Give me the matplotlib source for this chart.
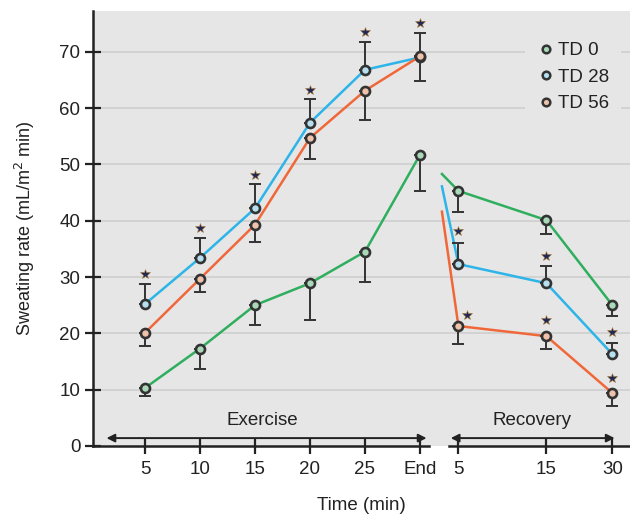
import matplotlib.pyplot as plt
from matplotlib.lines import Line2D

plt.rcParams['font.family'] = ['Liberation Sans Narrow', 'Liberation Sans', 'DejaVu Sans']

# x categories
ex_labels = ['5', '10', '15', '20', '25', 'End']
rec_labels = ['5', '15', '30']
ex_pos = [5, 10, 15, 20, 25, 30]
rec_pos = [33.5, 41.5, 47.5]
rec_start = 32.0  # start of recovery lines (no marker)

# TD 0 (error bars downward)
td0_ex = [10.3, 17.3, 25.0, 28.9, 34.5, 51.7]
td0_ex_err = [1.5, 3.6, 3.5, 6.5, 5.4, 6.5]
td0_rec = [45.3, 40.1, 25.0]
td0_rec_err = [3.7, 2.5, 2.0]
td0_start = 48.3

# TD 28 (error bars upward)
td28_ex = [25.2, 33.4, 42.2, 57.4, 66.8, 69.0]
td28_ex_err = [3.5, 3.5, 4.3, 4.3, 4.9, 4.4]
td28_rec = [32.3, 28.9, 16.3]
td28_rec_err = [3.7, 3.1, 2.0]
td28_start = 46.1

# TD 56 (error bars downward)
td56_ex = [20.1, 29.7, 39.3, 54.7, 63.1, 69.2]
td56_ex_err = [2.3, 2.3, 3.0, 3.8, 5.3, 4.4]
td56_rec = [21.3, 19.5, 9.4]
td56_rec_err = [3.2, 2.3, 2.3]
td56_start = 41.6

# significance stars
star_x = [5, 10, 15, 20, 25, 30, 33.5, 34.3, 41.5, 41.5, 47.5, 47.5]
star_y = [30.5, 38.7, 48.1, 63.3, 73.5, 75.2, 38.2, 23.3, 33.8, 22.4, 20.3, 12.1]

colors = {'TD 0': '#2fae5e', 'TD 28': '#2db4e8', 'TD 56': '#f0683a'}
faces = {'TD 0': '#a9d9b8', 'TD 28': '#b6dff0', 'TD 56': '#efc2ab'}
edge = '#333333'

fig = plt.figure(figsize=(6.3, 5.19), dpi=100)
ax = fig.add_axes([0.1476, 0.1407, 0.8524, 0.8387])
ax.set_facecolor('#e6e6e6')
ax.set_xlim(0.27, 49.1)
ax.set_ylim(0, 77.3)

for y in range(10, 80, 10):
    ax.axhline(y, color='#cfcfcf', lw=1.2, zorder=0)

series = [
    ('TD 0', td0_ex, td0_ex_err, td0_rec, td0_rec_err, td0_start, 'down'),
    ('TD 28', td28_ex, td28_ex_err, td28_rec, td28_rec_err, td28_start, 'up'),
    ('TD 56', td56_ex, td56_ex_err, td56_rec, td56_rec_err, td56_start, 'down'),
]

for name, ex, ex_err, rec, rec_err, start, side in series:
    c = colors[name]
    ax.plot(ex_pos, ex, color=c, lw=1.8, zorder=2)
    ax.plot([rec_start] + rec_pos, [start] + rec, color=c, lw=1.8, zorder=2)
    xs = ex_pos + rec_pos
    ys = ex + rec
    errs = ex_err + rec_err
    zeros = [0] * len(errs)
    yerr = [errs, zeros] if side == 'down' else [zeros, errs]
    ax.errorbar(xs, ys, yerr=yerr, fmt='none', ecolor=edge, elinewidth=1.4,
                capsize=4, capthick=1.4, zorder=3)
    ax.plot(xs, ys, 'o', ms=6.5, mfc=faces[name], mec=edge, mew=1.9,
            ls='none', zorder=4)

ax.plot(star_x, star_y, '*', ms=7.5, color='#1f2a5a', mec='#b07a30', mew=0.4,
        ls='none', zorder=5)

# legend
handles = [Line2D([], [], marker='o', ls='none', ms=5.5, mfc=faces[n], mec=edge,
                  mew=1.8) for n in ['TD 0', 'TD 28', 'TD 56']]
leg = ax.legend(handles, ['TD 0', 'TD 28', 'TD 56'], loc='upper right',
                bbox_to_anchor=(1.0, 0.975), frameon=True, facecolor='#e6e6e6',
                edgecolor='none', framealpha=1, fontsize=13.5, handletextpad=0.15,
                handlelength=1.0, labelspacing=0.5, borderpad=0.6)
for t in leg.get_texts():
    t.set_color('#222222')

# phase arrows
arrow = dict(arrowstyle='<|-|>', color='#222222', lw=1.4, shrinkA=0, shrinkB=0,
             mutation_scale=12)
ax.annotate('', xy=(30.6, 1.4), xytext=(1.5, 1.4), arrowprops=arrow)
ax.annotate('', xy=(47.7, 1.4), xytext=(32.8, 1.4), arrowprops=arrow)
ax.text(15.7, 4.6, 'Exercise', ha='center', va='center', fontsize=13.5, color='#222222')
ax.text(40.2, 4.6, 'Recovery', ha='center', va='center', fontsize=13.5, color='#222222')

# axes styling, broken bottom spine
for s in ['top', 'right', 'bottom']:
    ax.spines[s].set_visible(False)
ax.spines['left'].set_linewidth(1.8)
ax.spines['left'].set_color('#222222')
ax.plot([0.27, 30.8], [0, 0], color='#222222', lw=1.8, clip_on=False, zorder=6)
ax.plot([32.6, 49.1], [0, 0], color='#222222', lw=1.8, clip_on=False, zorder=6)

ax.set_xticks(ex_pos + rec_pos)
ax.set_xticklabels(ex_labels + rec_labels)
ax.set_yticks(range(0, 80, 10))
ax.tick_params(axis='both', direction='inout', length=11, width=1.6,
               color='#222222', labelsize=13.5, labelcolor='#222222')
ax.tick_params(axis='x', pad=5)

ax.set_xlabel('Time (min)', fontsize=13.5, color='#222222', labelpad=14)
ax.set_ylabel('Sweating rate (mL/m$^2$ min)', fontsize=13, color='#222222', labelpad=16)

fig.savefig('out.png', dpi=100)
